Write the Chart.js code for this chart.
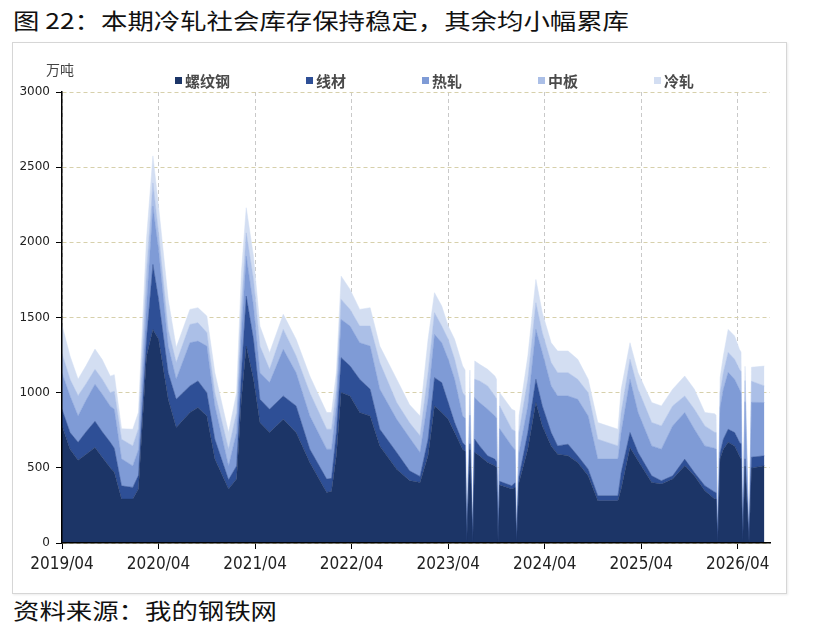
<!DOCTYPE html>
<html lang="zh">
<head>
<meta charset="UTF-8">
<title>图 22</title>
<script src="https://cdn.jsdelivr.net/npm/chart.js"></script>
<style>
  * { margin: 0; padding: 0; box-sizing: border-box; }
  body { width: 820px; height: 633px; background: #fff; position: relative; overflow: hidden; font-family: 'Noto Sans CJK SC', sans-serif; }
  .caption { position: absolute; left: 13px; font-size: 22px; color: #111; transform: scaleX(1.2); transform-origin: left top; white-space: nowrap; line-height: 1; }
  #title { top: 8px; }
  #source { top: 598px; }
  .box { position: absolute; left: 12px; top: 42px; width: 775px; height: 552px; border: 1px solid #d6d6d6; box-shadow: 1px 1px 2px rgba(0,0,0,0.08); }
  canvas { display: block; }
</style>
</head>
<body>
<div class="caption" id="title">图 22：本期冷轧社会库存保持稳定，其余均小幅累库</div>
<div class="box"><canvas id="c" width="773" height="550"></canvas></div>
<div class="caption" id="source">资料来源：我的钢铁网</div>

<script>
// months counted from 2019/04 (0 = 2019/04, 12 = 2020/04 ...)
const months = [0, 1.0, 2.0, 3.0, 4.1, 5.0, 6.0, 6.5, 7.4, 8.8, 9.5, 10.5, 11.3, 12.0, 13.2, 14.2, 15.9, 16.9, 18.0, 19.0,
  20.7, 21.7, 22.3, 22.9, 23.8, 24.6, 25.8, 27.5, 29.1, 30.8, 32.9, 33.5, 34.1, 34.7, 35.8, 37.0, 38.3, 39.5, 41.6, 43.2,
  44.5, 45.5, 46.3, 47.2, 48.0, 48.8, 49.8, 50.1, 50.3, 50.7, 51.06, 51.3, 51.9, 52.9, 53.8, 54.0, 54.2, 54.4, 55.9, 56.3,
  56.5, 56.8, 57.9, 58.9, 59.7, 60.8, 61.6, 62.9, 64.1, 65.4, 66.6, 69.1, 69.5, 70.6, 71.6, 73.3, 74.5, 75.9, 77.4, 78.6,
  79.9, 81.1, 81.3, 81.5, 81.8, 82.2, 82.8, 83.6, 84.2, 84.4, 84.6, 84.9, 85.4, 85.7, 87.3];

// 万吨
const rebar = [780, 624, 550, 590, 635, 570, 500, 470, 292, 292, 360, 1240, 1420, 1355, 956, 768, 868, 901, 845, 558,
  360, 425, 956, 1310, 1089, 801, 735, 823, 735, 536, 336, 345, 580, 1001, 978, 868, 845, 646, 491, 415,
  403, 580, 912, 868, 823, 735, 624, 610, 0, 620, 0, 602, 580, 536, 514, 500, 0, 385, 359, 370,
  0, 400, 624, 934, 779, 646, 591, 580, 536, 447, 281, 281, 359, 635, 547, 403, 392, 425, 514, 447,
  347, 295, 292, 0, 560, 624, 671, 646, 578, 560, 0, 511, 0, 498, 514];
const wire = [110, 111, 120, 150, 175, 170, 170, 160, 88, 78, 90, 115, 433, 265, 177, 188, 177, 177, 155, 132,
  60, 88, 177, 332, 266, 155, 155, 155, 177, 88, 89, 85, 155, 232, 200, 221, 178, 111, 111, 65,
  40, 110, 188, 199, 111, 66, 44, 40, 0, 40, 0, 88, 66, 44, 44, 40, 0, 25, 22, 30,
  0, 40, 111, 155, 133, 89, 55, 77, 44, 44, 33, 33, 110, 100, 55, 44, 22, 22, 44, 22,
  34, 45, 43, 0, 40, 66, 86, 89, 93, 100, 0, 49, 0, 73, 66];
const hot = [240, 243, 175, 210, 246, 250, 240, 260, 180, 143, 170, 225, 387, 330, 177, 134, 287, 265, 310, 222,
  93, 222, 267, 266, 221, 177, 177, 310, 221, 221, 199, 194, 177, 254, 265, 243, 287, 266, 221, 220,
  159, 266, 288, 265, 288, 288, 177, 180, 0, 190, 0, 277, 288, 310, 287, 290, 0, 350, 265, 220,
  0, 160, 177, 332, 354, 310, 332, 321, 376, 354, 244, 244, 266, 354, 266, 199, 210, 332, 310, 288,
  265, 290, 290, 0, 300, 333, 378, 354, 351, 340, 0, 380, 0, 365, 354];
const plate = [130, 111, 135, 110, 99, 100, 90, 120, 130, 133, 140, 220, 155, 113, 110, 110, 122, 122, 90, 88,
  111, 133, 176, 155, 177, 177, 88, 133, 111, 155, 133, 133, 111, 133, 111, 111, 133, 177, 111, 100,
  111, 177, 144, 111, 133, 133, 155, 150, 0, 150, 0, 122, 144, 155, 133, 130, 0, 152, 111, 125,
  0, 135, 177, 177, 133, 155, 155, 155, 133, 155, 132, 88, 133, 133, 155, 155, 155, 133, 110, 133,
  133, 107, 110, 0, 100, 110, 133, 133, 133, 140, 0, 140, 0, 140, 111];
const cold = [190, 155, 110, 120, 135, 130, 110, 110, 70, 111, 110, 220, 180, 177, 200, 100, 100, 100, 110, 133,
  111, 132, 224, 167, 155, 133, 111, 100, 111, 111, 111, 111, 110, 155, 133, 111, 122, 110, 155, 120,
  132, 222, 133, 133, 88, 133, 178, 170, 0, 150, 0, 122, 111, 110, 133, 130, 0, 88, 133, 135,
  0, 110, 155, 155, 133, 132, 144, 144, 133, 89, 111, 111, 155, 110, 110, 133, 133, 111, 133, 133,
  89, 123, 115, 0, 100, 111, 153, 155, 133, 130, 0, 95, 0, 93, 132];

const seriesNames = ['螺纹钢', '线材', '热轧', '中板', '冷轧'];
const tickLabels = ['2019/04', '2020/04', '2021/04', '2022/04', '2023/04', '2024/04', '2025/04', '2026/04'];

const colors = ['#1c3567', '#2e4f96', '#7f9bd6', '#abbfe7', '#d3def2'];
const seriesData = [rebar, wire, hot, plate, cold];

const datasets = seriesData.map((arr, i) => ({
  label: seriesNames[i],
  data: months.map((m, k) => ({ x: m, y: arr[k] })),
  backgroundColor: colors[i],
  borderColor: colors[i],
  borderWidth: 0.5,
  pointRadius: 0,
  tension: 0,
  fill: i === 0 ? 'origin' : '-1'
}));

const tickFontX = { family: "'Liberation Sans Narrow', 'DejaVu Sans Condensed', sans-serif", size: 17 };
const tickFontY = { family: "'DejaVu Sans', sans-serif", size: 12 };

// legend + unit label
const extras = {
  id: 'extras',
  afterDraw(chart) {
    const ctx = chart.ctx;
    const left = chart.chartArea.left;
    ctx.save();
    ctx.font = "14px 'Noto Sans CJK SC'";
    ctx.fillStyle = '#444';
    ctx.textBaseline = 'middle';
    ctx.fillText('万吨', 33, 27);
    ctx.font = "bold 15px 'Noto Sans CJK SC'";
    let x = left + 113;
    const y = 37;
    seriesNames.forEach((name, i) => {
      ctx.fillStyle = colors[i];
      ctx.fillRect(x, y - 3, 7, 7);
      ctx.fillStyle = '#4a4a4a';
      ctx.fillText(name, x + 10, y + 1);
      x += 10 + ctx.measureText(name).width + 76;
    });
    ctx.restore();
  }
};

new Chart(document.getElementById('c'), {
  type: 'line',
  data: { datasets },
  options: {
    responsive: false,
    animation: false,
    devicePixelRatio: 1,
    layout: { padding: { top: 49, right: 16, left: 0, bottom: 0 } },
    plugins: { legend: { display: false }, tooltip: { enabled: false } },
    scales: {
      x: {
        type: 'linear',
        min: 0,
        max: 88,
        afterBuildTicks: s => { s.ticks = tickLabels.map((_, i) => ({ value: i * 12 })); },
        afterFit: s => { s.height = 50; },
        ticks: {
          autoSkip: false,
          maxRotation: 0,
          padding: 5,
          color: '#222',
          font: tickFontX,
          callback: v => tickLabels[Math.round(v / 12)]
        },
        grid: { color: '#c9c9c9', lineWidth: 1, tickColor: '#000', tickLength: 6, tickBorderDash: [] },
        border: { color: '#000', width: 1.5, dash: [4, 3], z: 1 }
      },
      y: {
        stacked: true,
        min: 0,
        max: 3000,
        afterFit: s => { s.width = 49; },
        ticks: { stepSize: 500, padding: 6, color: '#222', font: tickFontY, callback: v => String(v) },
        grid: { color: '#d7d0ab', lineWidth: 1, tickColor: '#000', tickLength: 6, tickBorderDash: [] },
        border: { color: '#000', width: 1.5, dash: [4, 3], z: 1 }
      }
    }
  },
  plugins: [extras]
});
</script>
</body>
</html>
